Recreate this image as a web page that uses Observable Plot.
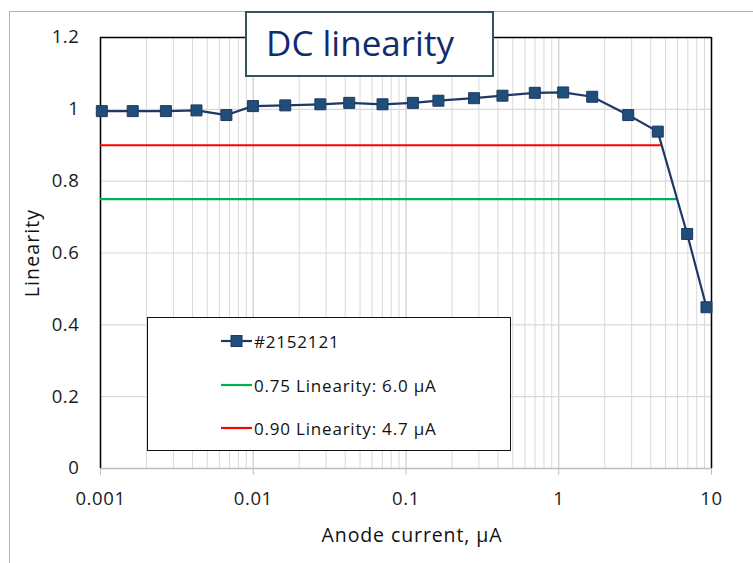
<!DOCTYPE html>
<html>
<head>
<meta charset="utf-8">
<script src="https://cdn.jsdelivr.net/npm/d3@7"></script>
<script src="https://cdn.jsdelivr.net/npm/@observablehq/plot@0.6"></script>
<style>
  html, body { margin: 0; padding: 0; background: #fff; }
  #wrap { position: relative; width: 753px; height: 563px; overflow: hidden; font-family: "Open Sans", "Noto Sans", sans-serif; }
  #wrap > svg { position: absolute; left: 0; top: 0; }
  #wrap > svg text { letter-spacing: 0.6px; }
  .frame { position: absolute; left: 9px; top: 11px; width: 800px; height: 600px; border-top: 1.5px solid #b4b4b4; border-left: 1.5px solid #b4b4b4; box-sizing: border-box; }
  .title { position: absolute; left: 245px; top: 11px; width: 249px; height: 66px; box-sizing: border-box; border: 2px solid #2F5658; background: #fff; color: #102C6C; font-size: 35px; line-height: 60px; padding-left: 19px; white-space: nowrap; }
  .legend { position: absolute; left: 147px; top: 317px; width: 364px; height: 134px; box-sizing: border-box; border: 1.5px solid #111; background: #fff; }
  .row { position: absolute; left: 73px; height: 24px; display: flex; align-items: center; font-size: 17px; letter-spacing: 0.8px; color: #111; white-space: nowrap; }
  .row svg { margin-right: 2px; }
  .ytitle { position: absolute; left: 31px; top: 253px; transform: translate(-50%, -50%) rotate(-90deg); font-size: 19.5px; letter-spacing: 1.1px; color: #111; white-space: nowrap; }
  .xtitle { position: absolute; left: 412px; top: 534px; transform: translate(-50%, -50%); font-size: 19.5px; letter-spacing: 0.9px; color: #111; white-space: nowrap; }
</style>
</head>
<body>
<div id="wrap"></div>
<script>
// ---- data ----
const seriesName = "#2152121";
const current = [0.00102, 0.001625, 0.00268, 0.00425, 0.00667, 0.00995, 0.0162, 0.0275, 0.0425,
                 0.0702, 0.111, 0.163, 0.279, 0.428, 0.697, 1.069, 1.656, 2.85, 4.45, 6.93, 9.27];
const linearity = [0.995, 0.995, 0.995, 0.997, 0.984, 1.009, 1.011, 1.014, 1.018,
                   1.014, 1.018, 1.024, 1.031, 1.038, 1.046, 1.047, 1.035, 0.984, 0.938, 0.653, 0.449];
const thresholdLevels = [0.75, 0.90];
const thresholdCurrents = [6.0, 4.7];
const thresholdColors = ["#00B050", "#FF0000"];
const thresholdLabels = ["0.75 Linearity: 6.0 μA", "0.90 Linearity: 4.7 μA"];
const xTicks = [0.001, 0.01, 0.1, 1, 10];
const xTickLabels = ["0.001", "0.01", "0.1", "1", "10"];
const yTicks = [0, 0.2, 0.4, 0.6, 0.8, 1.0, 1.2];
const yTickLabels = ["0", "0.2", "0.4", "0.6", "0.8", "1", "1.2"];
const titleText = "DC linearity";
const xTitle = "Anode current, μA";
const yTitle = "Linearity";

// ---- derived tables ----
const points = current.map((c, i) => ({current: c, linearity: linearity[i]}));
const thresholds = thresholdLevels.map((l, i) => ({level: l, from: xTicks[0], to: thresholdCurrents[i], color: thresholdColors[i]}));
const minorTicks = xTicks.slice(0, -1).flatMap(d => d3.range(2, 10).map(k => d * k));
const xLabelOf = d => {
  const i = xTicks.findIndex(t => Math.abs(Math.log10(t) - Math.log10(d)) < 1e-6);
  return i >= 0 ? xTickLabels[i] : "";
};
const yLabelOf = d => {
  const i = yTicks.findIndex(t => Math.abs(t - d) < 1e-6);
  return i >= 0 ? yTickLabels[i] : "";
};

const lineColor = "#1F3864";
const markerFill = "#1F4E79";

const chart = Plot.plot({
  width: 753,
  height: 563,
  marginLeft: 100,
  marginRight: 42,
  marginTop: 37,
  marginBottom: 95,
  style: {fontFamily: "'Open Sans', 'Noto Sans', sans-serif", fontSize: "18.5px", color: "#1a1a1a", background: "transparent"},
  x: {type: "log", domain: [xTicks[0], xTicks[xTicks.length - 1]]},
  y: {domain: [yTicks[0], yTicks[yTicks.length - 1]]},
  marks: [
    Plot.ruleX(minorTicks, {stroke: "#d9d9d9", strokeWidth: 1}),
    Plot.ruleX(xTicks, {stroke: "#cccccc", strokeWidth: 1.2}),
    Plot.ruleY(yTicks, {stroke: "#d9d9d9", strokeWidth: 1.2}),
    Plot.axisX(xTicks, {tickFormat: xLabelOf, tickSize: 7, tickPadding: 16, stroke: "#bfbfbf", label: null, fontSize: 18.5}),
    Plot.axisY(yTicks, {tickFormat: yLabelOf, tickSize: 0, tickPadding: 21, label: null, fontSize: 18.5}),
    Plot.ruleY([yTicks[0]], {stroke: "#bfbfbf", strokeWidth: 1.5}),
    Plot.ruleY([yTicks[yTicks.length - 1]], {stroke: "#000", strokeWidth: 1.5}),
    Plot.ruleX([xTicks[0], xTicks[xTicks.length - 1]], {stroke: "#000", strokeWidth: 1.5}),
    Plot.ruleY(thresholds, {y: "level", x1: "from", x2: "to", stroke: "color", strokeWidth: 2.2}),
    Plot.line(points, {x: "current", y: "linearity", stroke: lineColor, strokeWidth: 2.2}),
    Plot.dot(points, {x: "current", y: "linearity", symbol: "square", r: 6.2, fill: markerFill, stroke: lineColor, strokeWidth: 1})
  ]
});

const wrap = document.getElementById("wrap");
const frame = document.createElement("div");
frame.className = "frame";
wrap.appendChild(frame);
wrap.appendChild(chart);

const title = document.createElement("div");
title.className = "title";
title.textContent = titleText;
wrap.appendChild(title);

const yt = document.createElement("div");
yt.className = "ytitle"; yt.textContent = yTitle; wrap.appendChild(yt);
const xt = document.createElement("div");
xt.className = "xtitle"; xt.textContent = xTitle; wrap.appendChild(xt);

// legend
const legend = document.createElement("div");
legend.className = "legend";
wrap.appendChild(legend);
const legendRows = [
  {label: seriesName, color: lineColor, marker: true},
  {label: thresholdLabels[0], color: thresholdColors[0], marker: false},
  {label: thresholdLabels[1], color: thresholdColors[1], marker: false}
];
const rowCenters = [23, 67, 110];
legendRows.forEach((r, i) => {
  const row = document.createElement("div");
  row.className = "row";
  row.style.top = (rowCenters[i] - 12) + "px";
  const s = d3.create("svg").attr("width", 31).attr("height", 24);
  s.append("line").attr("x1", 0).attr("x2", 31).attr("y1", 12).attr("y2", 12).attr("stroke", r.color).attr("stroke-width", 2.2);
  if (r.marker) s.append("rect").attr("x", 10).attr("y", 6.5).attr("width", 11).attr("height", 11).attr("fill", markerFill).attr("stroke", lineColor).attr("stroke-width", 1);
  row.appendChild(s.node());
  const t = document.createElement("span");
  t.textContent = r.label;
  row.appendChild(t);
  legend.appendChild(row);
});
</script>
</body>
</html>
